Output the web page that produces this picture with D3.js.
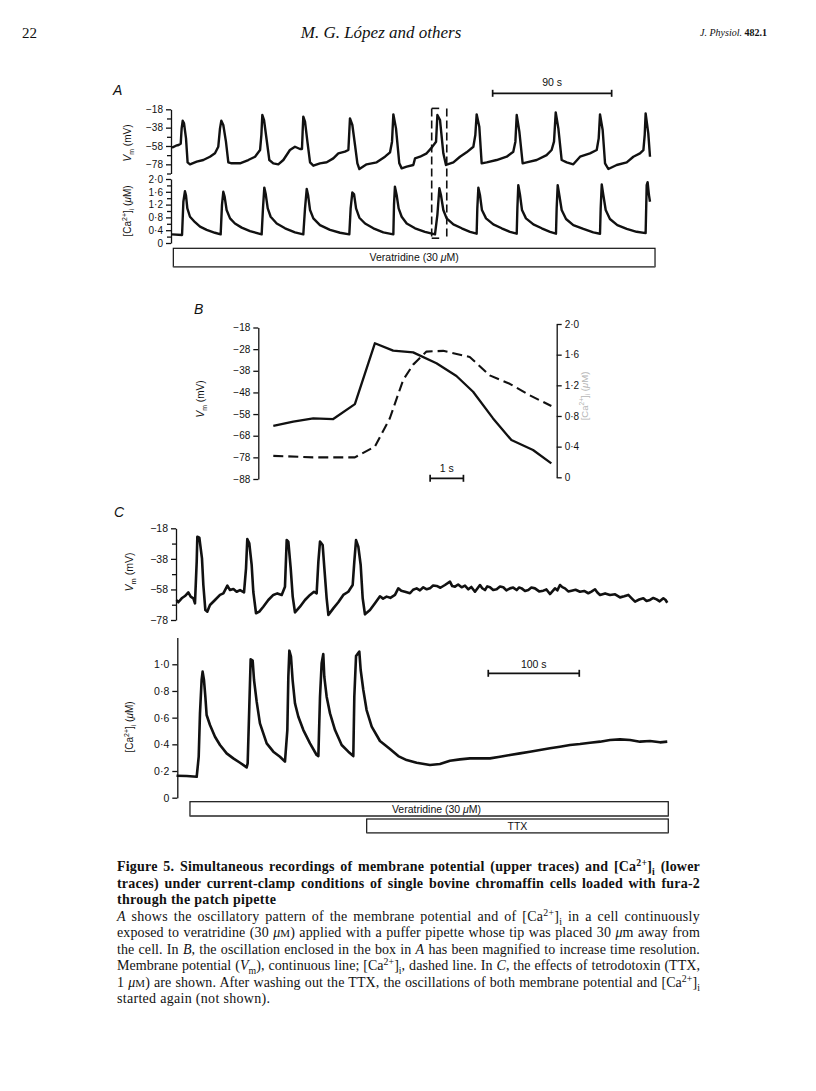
<!DOCTYPE html>
<html><head><meta charset="utf-8">
<script src="https://cdn.jsdelivr.net/npm/d3@7"></script>
<style>body{margin:0;background:#fff}</style>
</head><body>
<svg id="fig" width="816" height="1091"></svg>
<script>
// ---------------- DATA ----------------
// Panel A: time (s), Vm (mV)
const vmA = [[0,-59.8],[3.0,-57.7],[5.0,-56.9],[6.6,-55.5],[7.3,-38.8],[8.1,-30.4],[9.1,-33.3],[10.6,-49.7],[11.8,-75.8],[13.6,-78.0],[18.7,-75.1],[23.7,-73.3],[28.7,-69.7],[32.5,-66.0],[35.0,-58.8],[36.3,-38.8],[37.3,-30.4],[38.8,-35.1],[40.8,-53.3],[42.6,-75.8],[45.1,-76.9],[51.4,-76.9],[57.7,-73.3],[62.8,-69.7],[66.6,-62.4],[67.6,-46.0],[68.3,-24.2],[69.6,-29.7],[71.6,-51.5],[73.6,-73.3],[76.6,-76.9],[80.4,-78.0],[84.2,-73.3],[89.2,-62.4],[93.0,-58.8],[96.8,-61.3],[98.3,-61.3],[98.8,-42.4],[99.3,-26.0],[100.6,-31.5],[102.4,-53.3],[104.4,-75.8],[106.9,-79.5],[111.9,-76.9],[117.0,-75.8],[122.0,-71.5],[125.8,-66.0],[130.8,-64.2],[133.4,-62.4],[134.1,-42.4],[134.6,-27.9],[136.4,-35.1],[138.4,-56.9],[140.2,-76.9],[141.7,-83.1],[147.2,-78.0],[154.8,-75.8],[161.1,-69.7],[164.9,-64.9],[166.4,-53.3],[167.4,-23.5],[169.4,-38.8],[171.9,-76.9],[173.7,-82.4],[177.5,-80.6],[182.5,-78.7],[183.8,-71.5],[187.6,-69.7],[192.6,-66.0],[196.4,-59.8],[199.7,-53.3],[200.7,-24.2],[202.7,-29.7],[205.2,-66.0],[207.2,-78.7],[212.8,-75.8],[217.8,-69.7],[222.8,-64.9],[227.9,-58.8],[229.4,-46.0],[230.4,-23.5],[232.4,-36.9],[234.2,-76.9],[238.0,-75.8],[245.5,-73.3],[253.1,-69.7],[258.1,-64.2],[259.7,-53.3],[260.7,-24.2],[262.7,-42.4],[265.2,-76.9],[268.2,-75.8],[275.8,-73.3],[283.3,-67.9],[287.1,-62.4],[288.9,-53.3],[290.2,-21.3],[292.2,-38.8],[294.7,-73.3],[298.5,-75.8],[303.5,-78.0],[308.6,-69.7],[316.1,-66.0],[321.2,-62.4],[322.7,-49.7],[323.7,-23.5],[325.7,-40.6],[327.5,-76.9],[330.0,-83.1],[336.3,-78.7],[343.9,-75.8],[348.9,-69.7],[353.9,-66.0],[356.5,-62.4],[357.5,-46.0],[358.2,-22.4],[360.2,-44.2],[361.5,-69.7]];
// Panel A: time (s), [Ca2+]i (uM)
const caA = [[0,0.27],[7.6,0.25],[8.6,1.29],[9.8,1.62],[10.6,1.48],[11.6,1.08],[13.6,0.82],[17.4,0.65],[21.2,0.51],[26.2,0.41],[32.5,0.32],[36.8,0.27],[37.8,1.19],[38.8,1.60],[39.8,1.45],[41.3,1.03],[43.9,0.77],[47.6,0.61],[52.7,0.48],[59.0,0.37],[67.8,0.27],[68.8,1.08],[69.8,1.73],[70.8,1.55],[72.4,1.08],[74.6,0.82],[79.2,0.61],[85.5,0.46],[93.0,0.33],[99.3,0.27],[100.6,1.08],[101.9,1.69],[102.9,1.50],[104.4,1.03],[106.9,0.77],[111.9,0.56],[119.5,0.41],[127.1,0.32],[134.1,0.27],[135.1,1.08],[136.4,1.58],[137.7,1.52],[139.2,1.08],[141.7,0.79],[146.0,0.61],[152.3,0.46],[159.8,0.33],[167.4,0.27],[167.9,1.19],[168.6,1.76],[169.9,1.50],[171.4,1.08],[173.7,0.82],[177.5,0.61],[183.8,0.46],[191.3,0.35],[198.9,0.27],[200.7,0.88],[202.2,1.71],[203.4,1.50],[205.2,1.03],[207.7,0.77],[212.8,0.58],[219.1,0.46],[225.4,0.35],[230.4,0.29],[230.9,1.08],[231.7,1.73],[232.9,1.50],[234.4,1.03],[237.5,0.77],[243.0,0.58],[249.3,0.46],[255.6,0.35],[260.7,0.29],[261.2,1.08],[261.9,1.81],[263.2,1.50],[264.7,1.03],[267.7,0.77],[273.3,0.58],[279.6,0.46],[285.9,0.35],[290.4,0.29],[290.9,1.08],[291.7,1.81],[292.9,1.50],[294.7,1.03],[298.0,0.75],[303.5,0.56],[311.1,0.44],[318.6,0.33],[323.7,0.29],[324.2,1.08],[325.0,1.83],[326.2,1.50],[328.0,1.03],[331.2,0.75],[336.8,0.56],[343.9,0.44],[351.4,0.35],[358.2,0.31],[359.0,1.81],[359.7,1.90],[360.7,1.50],[361.5,1.29]];
const vmTicksA = [-18,-38,-58,-78];
const vmMinorA = [-28,-48,-68,-88];
const caTicksA = [0,0.4,0.8,1.2,1.6,2.0];
const caMinorA = [0.2,0.6,1.0,1.4,1.8];
const scaleBarA = [242.5, 332.5];      // 90 s
const veratA = [1, 365.3];             // veratridine application (s)
const boxA = [196.4, 207.8];           // enclosed oscillation (s)

// Panel B: time (s), Vm (mV) and [Ca2+]i (uM)
const vmB = [[0,-63.5],[0.6,-61.5],[1.2,-60.0],[1.8,-60.3],[2.45,-53.4],[3.05,-25.3],[3.6,-28.7],[4.2,-29.5],[4.9,-34.5],[5.5,-40.4],[6.0,-47.7],[6.6,-60.0],[7.15,-70.0],[7.8,-74.6],[8.35,-80.8]];
const caB = [[0,0.28],[1.2,0.26],[2.45,0.26],[3.05,0.40],[3.5,0.77],[3.9,1.27],[4.2,1.47],[4.6,1.64],[5.1,1.65],[5.9,1.57],[6.5,1.33],[7.1,1.22],[7.7,1.07],[8.35,0.93]];
const vmTicksB = [-18,-28,-38,-48,-58,-68,-78,-88];
const caTicksB = [0,0.4,0.8,1.2,1.6,2.0];
const scaleBarB = [4.71, 5.71];        // 1 s

// Panel C: time (s)
const vmC = [[0,-64.9],[2.0,-66.4],[5.7,-63.8],[9.3,-62.3],[13.0,-59.9],[15.6,-62.7],[18.5,-63.8],[20.3,-67.1],[22.2,-39.8],[22.9,-23.5],[25.1,-24.1],[26.6,-31.1],[28.0,-37.7],[29.5,-55.1],[31.7,-71.5],[33.9,-72.5],[36.8,-68.2],[42.3,-64.9],[47.8,-61.6],[51.5,-60.6],[55.9,-55.5],[58.8,-58.4],[62.5,-57.7],[66.1,-59.5],[69.8,-58.4],[74.2,-59.9],[76.4,-44.2],[77.8,-25.0],[80.0,-27.8],[82.6,-42.0],[84.4,-59.5],[87.4,-73.6],[91.0,-72.5],[95.4,-69.3],[100.9,-64.9],[106.4,-61.6],[110.8,-60.6],[115.6,-61.6],[119.2,-56.2],[121.1,-25.7],[122.9,-26.7],[125.5,-44.2],[127.7,-62.7],[130.2,-73.0],[135.7,-69.3],[141.2,-64.9],[146.7,-61.6],[151.1,-59.5],[154.0,-60.6],[155.9,-39.8],[157.7,-26.7],[160.6,-28.9],[162.5,-44.2],[165.0,-63.8],[166.9,-74.7],[172.3,-70.4],[177.8,-66.4],[183.3,-61.6],[188.8,-59.5],[193.6,-55.1],[195.4,-39.8],[197.3,-25.7],[199.8,-30.0],[202.4,-42.0],[204.6,-63.8],[207.1,-74.3],[212.6,-71.5],[218.1,-67.1],[223.6,-62.5],[227.0,-64.0],[230.9,-62.7],[235.0,-63.5],[240.1,-61.6],[243.7,-57.3],[247.0,-58.9],[251.1,-59.5],[256.6,-60.5],[260.0,-58.2],[263.9,-57.3],[267.5,-58.6],[271.2,-56.6],[275.0,-57.9],[278.5,-57.3],[282.0,-55.4],[285.9,-55.7],[290.0,-56.9],[295.0,-55.1],[300.5,-52.9],[303.0,-55.8],[306.0,-56.2],[309.5,-54.8],[313.3,-56.6],[317.0,-55.5],[320.7,-57.9],[324.0,-56.4],[328.0,-59.5],[333.5,-55.1],[336.0,-57.2],[339.0,-58.4],[341.5,-56.0],[344.5,-56.6],[348.0,-58.4],[351.8,-57.9],[355.5,-56.1],[359.1,-56.6],[362.5,-58.6],[366.5,-57.3],[370.0,-56.8],[373.8,-58.4],[376.5,-56.7],[379.3,-57.3],[383.0,-59.0],[386.6,-58.4],[390.0,-56.8],[393.9,-57.3],[398.5,-59.3],[403.1,-58.8],[406.5,-58.0],[410.4,-61.0],[415.9,-57.3],[418.5,-58.6],[421.4,-55.1],[424.0,-56.5],[426.9,-57.3],[430.5,-59.3],[434.2,-58.8],[438.5,-58.2],[443.4,-59.5],[448.0,-59.0],[452.5,-60.5],[456.0,-59.4],[459.9,-57.9],[462.5,-60.0],[465.4,-61.6],[471.0,-60.6],[476.4,-61.6],[482.0,-61.2],[487.4,-63.2],[492.0,-62.5],[496.5,-61.6],[500.5,-64.0],[503.9,-66.0],[508.5,-64.6],[513.0,-63.8],[516.5,-65.6],[520.3,-64.9],[524.0,-63.6],[527.6,-64.5],[531.0,-65.8],[535.0,-63.8],[537.5,-64.9],[539.3,-66.7]];
const caC = [[0,0.165],[11.2,0.163],[22.2,0.157],[24.4,0.307],[25.8,0.632],[27.6,0.882],[28.7,0.945],[30.2,0.882],[31.7,0.757],[33.1,0.620],[36.8,0.545],[42.3,0.457],[47.8,0.395],[55.1,0.332],[62.4,0.295],[69.8,0.262],[77.1,0.227],[78.2,0.257],[80.0,0.682],[81.5,1.037],[83.7,1.027],[85.2,0.882],[88.1,0.720],[91.7,0.557],[99.1,0.407],[106.4,0.345],[113.7,0.307],[119.2,0.270],[121.8,0.507],[122.9,0.907],[124.0,1.102],[125.8,1.057],[127.6,0.882],[130.2,0.707],[133.9,0.607],[139.4,0.507],[146.7,0.407],[154.0,0.320],[155.9,0.312],[157.7,0.757],[159.5,1.007],[161.3,1.077],[162.4,0.907],[165.0,0.757],[168.7,0.632],[174.2,0.507],[181.5,0.395],[188.8,0.345],[194.3,0.312],[195.4,0.757],[197.3,1.062],[200.9,1.095],[202.4,0.957],[205.3,0.807],[208.9,0.657],[214.5,0.532],[223.6,0.425],[234.6,0.365],[243.7,0.312],[252.9,0.282],[263.9,0.262],[278.5,0.245],[289.5,0.252],[300.5,0.277],[311.5,0.287],[322.5,0.295],[333.5,0.295],[344.5,0.295],[355.5,0.307],[366.5,0.320],[377.4,0.332],[388.4,0.345],[399.4,0.357],[410.4,0.370],[421.4,0.382],[432.4,0.395],[443.4,0.402],[454.4,0.412],[465.4,0.420],[476.4,0.432],[487.4,0.437],[498.4,0.432],[509.3,0.420],[520.3,0.425],[531.3,0.415],[539.3,0.420]];
const vmTicksC = [-18,-38,-58,-78];
const vmMinorC = [-28,-48,-68];
const caTicksC = [0,0.2,0.4,0.6,0.8,1.0];
const scaleBarC = [342.6, 442.6];     // 100 s
const veratC = [14.8, 540.4];
const ttxC = [209, 540.4];

// ---------------- DRAWING ----------------
const svg = d3.select("#fig");
const SANS = "'Liberation Sans', Arial, Helvetica, sans-serif";
const SERIF = "'Liberation Serif', 'Times New Roman', serif";
const INK = "#111";

const fmtV = d => (d < 0 ? "\u2212" : "") + Math.abs(d);
const fmtC = d => d === 0 ? "0" : d.toFixed(1).replace(".", "\u00B7");

function drawAxis(x, scale, side, major, minor, fmt, fs) {
  const g = svg.append("g").attr("transform", `translate(${x},0)`);
  const mk = side === "left" ? d3.axisLeft : d3.axisRight;
  g.call(mk(scale).tickValues(major).tickSize(5).tickSizeOuter(0).tickPadding(3).tickFormat(fmt));
  if (minor) {
    const m = g.append("g").call(mk(scale).tickValues(minor).tickSize(4).tickSizeOuter(0).tickFormat(""));
    m.select(".domain").remove();
  }
  g.attr("font-family", SANS).attr("font-size", fs || 10);
  g.selectAll("path,line").attr("stroke", INK).attr("stroke-width", 1.3);
  g.selectAll("text").attr("fill", INK);
  return g;
}

function richText(parent, x, y, segs, attrs) {
  const t = parent.append("text").attr("x", x).attr("y", y);
  Object.entries(attrs || {}).forEach(([k, v]) => t.attr(k, v));
  let off = 0;
  const base = +(attrs && attrs["font-size"] || 10);
  segs.forEach(s => {
    const [txt, st] = Array.isArray(s) ? s : [s];
    let target = 0, fsz = null;
    if (st === "sup") { target = -base * 0.38; fsz = base * 0.7; }
    if (st === "sub") { target = base * 0.25; fsz = base * 0.7; }
    if (st === "sc") { fsz = base * 0.78; }
    const ts = t.append("tspan").text(txt);
    if (target - off !== 0) ts.attr("dy", target - off);
    off = target;
    if (fsz) ts.attr("font-size", fsz);
    if (st === "i") ts.attr("font-style", "italic");
    if (st === "b") ts.attr("font-weight", "bold");
  });
  return t;
}

function vLabelVm(x, y, fs) {
  richText(svg, 0, 0, [["V", "i"], ["m", "sub"], ["  (mV)"]],
    {"font-size": fs, "font-family": SANS, "text-anchor": "middle", fill: INK,
     transform: `translate(${x},${y}) rotate(-90)`});
}
function vLabelCa(x, y, fs, col) {
  richText(svg, 0, 0, [["[Ca"], ["2+", "sup"], ["]"], ["i", "sub"], ["  ("], ["\u03BC", "i"], ["M)"]],
    {"font-size": fs, "font-family": SANS, "text-anchor": "middle", fill: col || INK,
     transform: `translate(${x},${y}) rotate(-90)`});
}

function scaleBar(x, y0, range, label, ty) {
  const g = svg.append("g").attr("stroke", INK).attr("stroke-width", 1.7);
  g.append("line").attr("x1", x(range[0])).attr("x2", x(range[1])).attr("y1", y0).attr("y2", y0);
  range.forEach(r => g.append("line").attr("x1", x(r)).attr("x2", x(r)).attr("y1", y0 - 3.5).attr("y2", y0 + 3.5));
  svg.append("text").attr("x", (x(range[0]) + x(range[1])) / 2).attr("y", ty)
    .attr("text-anchor", "middle").attr("font-family", SANS).attr("font-size", 10.5).attr("fill", INK).text(label);
}

function drugBar(x, range, y0, h, segs, tx) {
  svg.append("rect").attr("x", x(range[0])).attr("y", y0).attr("width", x(range[1]) - x(range[0])).attr("height", h)
    .attr("fill", "#fff").attr("stroke", INK).attr("stroke-width", 1.2);
  svg.append("line").attr("x1", x(range[0])).attr("x2", x(range[1])).attr("y1", y0 + h).attr("y2", y0 + h)
    .attr("stroke", "#555").attr("stroke-width", 1.6);
  richText(svg, tx != null ? tx : (x(range[0]) + x(range[1])) / 2, y0 + h / 2 + 3.8, segs,
    {"font-size": 10.5, "font-family": SANS, "text-anchor": "middle", fill: INK});
}

const trace = (g, data, x, y, w, dash) => g.append("path").datum(data)
  .attr("d", d3.line().x(d => x(d[0])).y(d => y(d[1])))
  .attr("fill", "none").attr("stroke", INK).attr("stroke-width", w)
  .attr("stroke-linejoin", "round").attr("stroke-linecap", "butt")
  .attr("stroke-dasharray", dash || null);

// ---------- Header ----------
svg.append("text").attr("x", 22).attr("y", 38).attr("font-family", SERIF).attr("font-size", 15).attr("fill", INK).text("22");
svg.append("text").attr("x", 381).attr("y", 38).attr("text-anchor", "middle").attr("font-family", SERIF)
  .attr("font-size", 17).attr("font-style", "italic").attr("fill", INK).text("M. G. L\u00F3pez and others");
richText(svg, 700, 36, [["J. Physiol.", "i"], [" 482.1", "b"]], {"font-size": 10, "font-family": SERIF, fill: INK});

// ---------- Panel A ----------
const xA = d3.scaleLinear([0, 361.5], [172, 650]);
const yAv = d3.scaleLinear([-88, -18], [173.5, 109.3]);
const yAc = d3.scaleLinear([0, 2], [243, 179]);
svg.append("text").attr("x", 113).attr("y", 95).attr("font-family", SANS).attr("font-size", 14).attr("font-style", "italic").attr("fill", INK).text("A");
drawAxis(171, yAv, "left", vmTicksA, vmMinorA, fmtV);
drawAxis(171, yAc, "left", caTicksA, caMinorA, fmtC);
vLabelVm(131, 143, 10);
vLabelCa(131, 211, 10);
const gA = svg.append("g");
trace(gA, vmA, xA, yAv, 2.4);
trace(gA, caA, xA, yAc, 2.4);
// dashed box
const bx0 = xA(boxA[0]), bx1 = xA(boxA[1]), by0 = yAv(-17), by1 = yAc(0.15);
gA.append("line").attr("x1", bx0).attr("x2", bx0).attr("y1", by0).attr("y2", by1).attr("stroke", INK).attr("stroke-width", 1.6).attr("stroke-dasharray", "8,4");
gA.append("line").attr("x1", bx1).attr("x2", bx1).attr("y1", by0).attr("y2", by1).attr("stroke", INK).attr("stroke-width", 1.6).attr("stroke-dasharray", "8,4");
gA.append("line").attr("x1", bx0).attr("x2", bx0 + 7.5).attr("y1", by0).attr("y2", by0).attr("stroke", INK).attr("stroke-width", 1.6);
gA.append("line").attr("x1", bx0).attr("x2", bx0 + 7.5).attr("y1", by1).attr("y2", by1).attr("stroke", INK).attr("stroke-width", 1.6);
scaleBar(xA, 93.3, scaleBarA, "90 s", 86);
drugBar(xA, veratA, 248.3, 18.4, [["Veratridine (30 "], ["\u03BC", "i"], ["M)"]]);

// ---------- Panel B ----------
const xB = d3.scaleLinear([0, 8.4], [273.3, 553]);
const yBv = d3.scaleLinear([-88, -18], [479, 327.5]);
const yBc = d3.scaleLinear([0, 2], [477.3, 324]);
svg.append("text").attr("x", 194).attr("y", 314).attr("font-family", SANS).attr("font-size", 14).attr("font-style", "italic").attr("fill", INK).text("B");
drawAxis(258.3, yBv, "left", vmTicksB, null, fmtV);
drawAxis(556.7, yBc, "right", caTicksB, null, fmtC);
vLabelVm(204, 399, 10);
vLabelCa(588, 396, 9.5, "#b5b5b5");
const gB = svg.append("g");
trace(gB, vmB, xB, yBv, 2.3);
trace(gB, caB, xB, yBc, 2.1, "10,5");
scaleBar(xB, 478.3, scaleBarB, "1 s", 471.5);

// ---------- Panel C ----------
const xC = d3.scaleLinear([0, 540], [176.5, 667.9]);
const yCv = d3.scaleLinear([-78, -18], [620, 528.3]);
const yCc = d3.scaleLinear([0, 1.2], [797.7, 637.6]);
svg.append("text").attr("x", 114).attr("y", 517).attr("font-family", SANS).attr("font-size", 14).attr("font-style", "italic").attr("fill", INK).text("C");
drawAxis(176, yCv, "left", vmTicksC, vmMinorC, fmtV, 10.5);
drawAxis(177.3, yCc, "left", caTicksC, null, fmtC, 10.5);
vLabelVm(133, 572, 10.5);
vLabelCa(133, 727, 10);
const gC = svg.append("g");
trace(gC, vmC, xC, yCv, 2.6);
trace(gC, caC, xC, yCc, 2.6);
scaleBar(xC, 673.3, scaleBarC, "100 s", 668);
drugBar(xC, veratC, 801.7, 14.3, [["Veratridine (30 "], ["\u03BC", "i"], ["M)"]], 436.5);
drugBar(xC, ttxC, 819, 13.7, ["TTX"]);

// ---------- Caption ----------
const capLines = [
  {y: 871, bold: true, j: true, segs: [["Figure 5. Simultaneous recordings of membrane potential (upper traces) and [Ca"], ["2+", "sup"], ["]"], ["i", "sub"], [" (lower"]]},
  {y: 888, bold: true, j: true, segs: [["traces) under current-clamp conditions of single bovine chromaffin cells loaded with fura-2"]]},
  {y: 904, bold: true, j: false, segs: [["through the patch pipette"]]},
  {y: 921, j: true, segs: [["A", "i"], [" shows the oscillatory pattern of the membrane potential and of [Ca"], ["2+", "sup"], ["]"], ["i", "sub"], [" in a cell continuously"]]},
  {y: 937, j: true, segs: [["exposed to veratridine (30 "], ["\u03BC", "i"], ["M", "sc"], [") applied with a puffer pipette whose tip was placed 30 "], ["\u03BC", "i"], ["m away from"]]},
  {y: 954, j: true, segs: [["the cell. In "], ["B", "i"], [", the oscillation enclosed in the box in "], ["A", "i"], [" has been magnified to increase time resolution."]]},
  {y: 970, j: true, segs: [["Membrane potential ("], ["V", "i"], ["m", "sub"], ["), continuous line; [Ca"], ["2+", "sup"], ["]"], ["i", "sub"], [", dashed line. In "], ["C", "i"], [", the effects of tetrodotoxin (TTX,"]]},
  {y: 987, j: true, segs: [["1 "], ["\u03BC", "i"], ["M", "sc"], [") are shown. After washing out the TTX, the oscillations of both membrane potential and [Ca"], ["2+", "sup"], ["]"], ["i", "sub"]]},
  {y: 1003, j: false, segs: [["started again (not shown)."]]}
];
const CAP_W = 583;
capLines.forEach(L => {
  const t = richText(svg, 117, L.y, L.segs, {"font-size": 14, "font-family": SERIF, fill: INK, "font-weight": L.bold ? "bold" : "normal"});
  const len = t.node().getComputedTextLength();
  const txt = t.text();
  const nChars = txt.length;
  const nSp = (txt.match(/ /g) || []).length;
  if (L.j) {
    const def = CAP_W - len;
    const ls = 0.45 * def / nChars;
    const ws = nSp ? 0.55 * def / nSp : 0;
    t.attr("letter-spacing", ls).attr("word-spacing", ws);
  } else {
    t.attr("letter-spacing", 0.3);
  }
});
</script>
</body></html>
